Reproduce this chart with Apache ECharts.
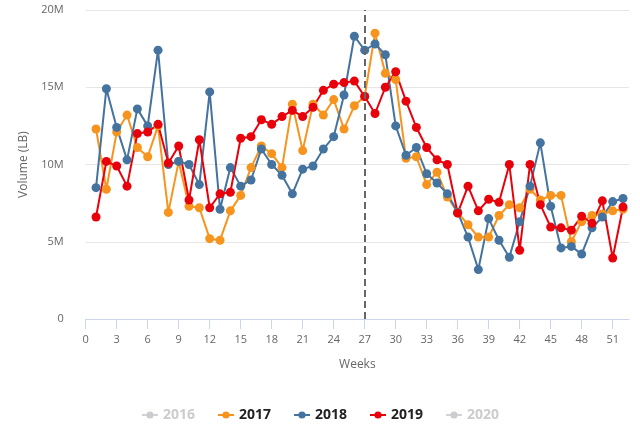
<!DOCTYPE html>
<html><head><meta charset="utf-8">
<script src="https://cdn.jsdelivr.net/npm/echarts@6/dist/echarts.min.js"></script>
<style>html,body{margin:0;padding:0;background:#fff}#c{width:640px;height:427px}</style>
</head><body><div id="c"></div><script>
// Week numbers (x) and volumes in millions of LB
var weeks = [1,2,3,4,5,6,7,8,9,10,11,12,13,14,15,16,17,18,19,20,21,22,23,24,25,26,27,28,29,30,31,32,33,34,35,36,37,38,39,40,41,42,43,44,45,46,47,48,49,50,51,52];
var v2016 = [];
var v2017 = [12.3,8.4,12.1,13.2,11.1,10.5,12.5,6.9,10.2,7.3,7.2,5.2,5.1,7.0,8.0,9.8,11.2,10.7,9.8,13.9,10.9,13.9,13.2,14.2,12.3,13.8,14.4,18.5,15.9,15.5,10.4,10.5,8.7,9.5,7.9,6.9,6.1,5.3,5.3,6.7,7.4,7.2,8.4,7.7,8.0,8.0,5.0,6.3,6.7,6.8,7.0,7.1];
var v2018 = [8.5,14.9,12.4,10.3,13.6,12.5,17.4,10.0,10.2,10.0,8.7,14.7,7.1,9.8,8.6,9.0,11.0,10.0,9.3,8.1,9.7,9.9,11.0,11.8,14.5,18.3,17.4,17.8,17.1,12.5,10.6,11.1,9.4,8.8,8.1,6.9,5.3,3.2,6.5,5.1,4.0,6.3,8.6,11.4,7.3,4.6,4.7,4.2,5.9,6.6,7.6,7.8];
var v2019 = [6.6,10.2,9.9,8.6,12.0,12.1,12.6,10.1,11.2,7.7,11.6,7.2,8.1,8.2,11.7,11.8,12.9,12.6,13.1,13.5,13.1,13.7,14.8,15.2,15.3,15.4,14.4,13.3,15.0,16.0,14.1,12.4,11.1,10.3,10.0,6.85,8.6,7.0,7.75,7.55,10.0,4.45,10.0,7.4,5.95,5.9,5.75,6.65,6.2,7.65,3.95,7.25];
var v2020 = [];
var xTicks = [0,3,6,9,12,15,18,21,24,27,30,33,36,39,42,45,48,51];
var markWeek = 27;

function pairs(vals){ return vals.map(function(v,i){ return [weeks[i], v]; }); }

var chart = echarts.init(document.getElementById('c'));
var FONT = '"Open Sans", "DejaVu Sans", sans-serif';
function mk(name, vals, color, extra){
  var s = {
    name: name, type: 'line', data: pairs(vals),
    symbol: 'circle', symbolSize: 9, showSymbol: true,
    lineStyle: {width: 2, color: color},
    itemStyle: {color: color},
    emphasis: {disabled: true},
    animation: false
  };
  if (extra) for (var k in extra) s[k] = extra[k];
  return s;
}
chart.setOption({
  animation: false,
  textStyle: {fontFamily: FONT},
  grid: {left: 85.7, right: 11, top: 10, bottom: 108},
  xAxis: {
    type: 'value', min: 0, max: 52.58,
    name: 'Weeks', nameLocation: 'middle', nameGap: 40,
    nameTextStyle: {color: '#666', fontSize: 12, fontFamily: FONT},
    axisLine: {show: true, lineStyle: {color: '#ccd6eb', width: 1}},
    axisTick: {show: true, customValues: xTicks, length: 10, lineStyle: {color: '#ccd6eb'}},
    axisLabel: {customValues: xTicks, color: '#666', fontSize: 11, margin: 15, fontFamily: FONT},
    splitLine: {show: false}
  },
  yAxis: {
    type: 'value', min: 0, max: 20, interval: 5,
    name: 'Volume (LB)', nameLocation: 'middle', nameGap: 56, nameRotate: 90,
    nameTextStyle: {color: '#666', fontSize: 12, fontFamily: FONT},
    axisLine: {show: false}, axisTick: {show: false},
    axisLabel: {color: '#666', fontSize: 11, margin: 22, fontFamily: FONT,
      formatter: function(v){ return v === 0 ? '0' : v + 'M'; }},
    splitLine: {lineStyle: {color: '#e6e6e6', width: 1}}
  },
  legend: {
    data: ['2016','2017','2018','2019','2020'],
    selected: {'2016': false, '2020': false},
    top: 403, left: 'center', itemGap: 22, itemWidth: 16, itemHeight: 9,
    inactiveColor: '#cccccc',
    textStyle: {color: '#222', fontSize: 14, fontWeight: 'bold', fontFamily: FONT}
  },
  series: [
    mk('2016', v2016, '#aaaaaa'),
    mk('2017', v2017, '#f7941d', {
      markLine: {
        silent: true, symbol: 'none', animation: false,
        label: {show: false},
        lineStyle: {color: '#666666', type: [7, 4], width: 2},
        data: [{xAxis: markWeek}]
      }
    }),
    mk('2018', v2018, '#44739f'),
    mk('2019', v2019, '#e8000b'),
    mk('2020', v2020, '#aaaaaa')
  ]
});
</script></body></html>
